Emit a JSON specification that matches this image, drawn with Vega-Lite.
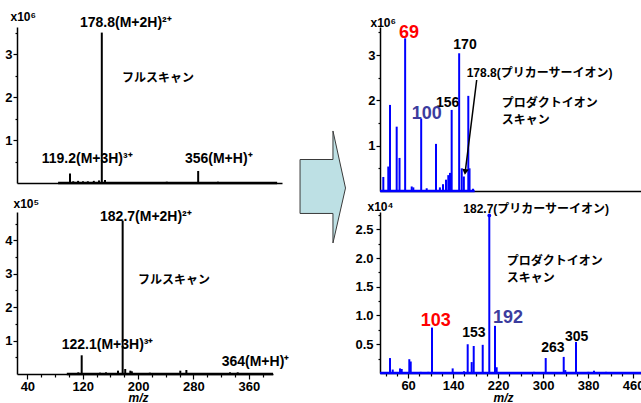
{
"$schema": "https://vega.github.io/schema/vega-lite/v6.json",
"padding": {"left": 4, "top": 10, "right": 0, "bottom": 0},
"background": "white",
"bounds": "flush",
"columns": 3,
"spacing": {"row": 21, "column": 0},
"config": {
  "font": "'Liberation Sans', 'Noto Sans CJK JP'",
  "view": {"stroke": null},
  "axis": {"domainColor": "#000000", "domainWidth": 1.5, "tickColor": "#000000", "tickWidth": 1.2, "labelColor": "#000000", "labelFont": "'Liberation Sans', 'DejaVu Sans'", "labelFontSize": 13, "labelFontWeight": "bold", "labelOverlap": false, "labelFlush": false, "grid": false, "titleColor": "#000000", "titleFont": "'Liberation Sans', 'DejaVu Sans'", "titleFontWeight": "bold"},
  "axisY": {"titleAngle": 0, "titleAlign": "left", "titleBaseline": "alphabetic", "titleFontSize": 12, "labelPadding": 1},
  "axisX": {"labelPadding": 1},
  "text": {"font": "'Liberation Sans', 'Noto Sans CJK JP'", "fontWeight": "bold"}
},
"datasets": {
  "tl_peaks": [{"mz":120,"i":0.22},{"mz":126,"i":0.04},{"mz":135,"i":0.05},{"mz":144,"i":0.04},{"mz":153,"i":0.04},{"mz":164,"i":0.05},{"mz":173.6,"i":0.06},{"mz":178.8,"i":3.5},{"mz":184.7,"i":0.07},{"mz":299,"i":0.03},{"mz":357,"i":0.28},{"mz":393.5,"i":0.03}],
  "tl_base": [{"mz":98,"end":503,"i":0}],
  "tl_ions": [{"mz":138.5,"i":3.63,"text":"178.8(M+2H)²⁺"},{"mz":67.7,"i":0.47,"text":"119.2(M+3H)³⁺"},{"mz":332.5,"i":0.47,"text":"356(M+H)⁺"}],
  "tl_notes": [{"mz":216,"i":2.35,"text":"フルスキャン"}],
  "bl_peaks": [{"mz":113.6,"i":0.05},{"mz":118.5,"i":0.56},{"mz":125.6,"i":0.03},{"mz":134.8,"i":0.03},{"mz":145,"i":0.04},{"mz":153.6,"i":0.05},{"mz":171,"i":0.1},{"mz":177.7,"i":4.59},{"mz":181.4,"i":0.15},{"mz":188.8,"i":0.1},{"mz":191,"i":0.08},{"mz":217,"i":0.04},{"mz":261,"i":0.1},{"mz":269.8,"i":0.12},{"mz":332.8,"i":0.05},{"mz":344,"i":0.05}],
  "bl_base": [{"mz":97,"end":395,"i":0}],
  "bl_ions": [{"mz":145,"i":4.58,"text":"182.7(M+2H)²⁺"},{"mz":89.6,"i":0.76,"text":"122.1(M+3H)³⁺"},{"mz":320.8,"i":0.24,"text":"364(M+H)⁺"}],
  "bl_notes": [{"mz":199.9,"i":2.69,"text":"フルスキャン"}],
  "tr_peaks": [{"mz":28.2,"i":0.31},{"mz":37.5,"i":0.54},{"mz":40.7,"i":1.9},{"mz":53.2,"i":1.42},{"mz":58.5,"i":0.73},{"mz":69,"i":3.37},{"mz":81.3,"i":0.1},{"mz":84.3,"i":0.08},{"mz":99,"i":1.6},{"mz":109.3,"i":0.06},{"mz":126.7,"i":1.04},{"mz":134,"i":0.08},{"mz":139.8,"i":0.15},{"mz":145.4,"i":0.25},{"mz":149.7,"i":0.35},{"mz":152.9,"i":0.4},{"mz":156,"i":1.79},{"mz":170,"i":3.04},{"mz":174.8,"i":0.5},{"mz":178.8,"i":0.32},{"mz":187.1,"i":2.1},{"mz":189.4,"i":0.5},{"mz":195.9,"i":0.05}],
  "tr_base": [{"mz":22,"end":199,"i":0}],
  "tr_notes": [{"mz":184.1,"i":2.52,"text":"178.8(プリカーサーイオン)"},{"mz":249.6,"i":1.85,"text":"プロダクトイオン"},{"mz":249.6,"i":1.48,"text":"スキャン"}],
  "tr_ions": [{"mz":180.9,"i":3.13,"text":"170"},{"mz":148.6,"i":1.85,"text":"156"}],
  "tr_marks": [{"mz":76.2,"i":3.38,"text":"69","series":"A"},{"mz":109.5,"i":1.59,"text":"100","series":"B"}],
  "tr_arrow": [{"mz":202.8,"i":2.45,"mz2":181.3,"i2":0.42}],
  "tr_head": [{"mz":181.3,"i":0.42}],
  "br_peaks": [{"mz":27.8,"i":0.26},{"mz":32.6,"i":0.06},{"mz":45.6,"i":0.08},{"mz":48.6,"i":0.07},{"mz":62.1,"i":0.24},{"mz":64.6,"i":0.2},{"mz":82.4,"i":0.02},{"mz":95.9,"i":0.02},{"mz":102.4,"i":0.79},{"mz":139.2,"i":0.08},{"mz":159.3,"i":0.03},{"mz":165.9,"i":0.5},{"mz":173,"i":0.19},{"mz":176.6,"i":0.47},{"mz":192.6,"i":0.49},{"mz":204.3,"i":2.74},{"mz":214.4,"i":0.82},{"mz":217.4,"i":0.1},{"mz":283.8,"i":0.02},{"mz":304.6,"i":0.26},{"mz":336.6,"i":0.28},{"mz":339.4,"i":0.05},{"mz":358.4,"i":0.54},{"mz":380.3,"i":0.02},{"mz":390.4,"i":0.04},{"mz":411.8,"i":0.02}],
  "br_base": [{"mz":10,"end":474,"i":0}],
  "br_notes": [{"mz":158.1,"i":2.78,"text":"182.7(プリカーサーイオン)"},{"mz":235.2,"i":1.88,"text":"プロダクトイオン"},{"mz":235.2,"i":1.58,"text":"スキャン"}],
  "br_ions": [{"mz":176.8,"i":0.63,"text":"153"},{"mz":317.2,"i":0.37,"text":"263"},{"mz":359.7,"i":0.56,"text":"305"}],
  "br_marks": [{"mz":109.2,"i":0.82,"text":"103","series":"A"},{"mz":237.6,"i":0.87,"text":"192","series":"B"}],
  "br_precursor": [{"mz":204.3,"i":2.74}],
  "arrow": [{"ax":18.4,"top":80.8,"bottom":113.7},{"ax":52.0,"top":80.8,"bottom":113.7},{"ax":52.01,"top":63.4,"bottom":131.7},{"ax":64.8,"top":98.2,"bottom":98.2}],
  "empty": []
},
"concat": [
    {"width": 265, "height": 156,
     "encoding": {
      "x": {"field": "mz", "type": "quantitative", "scale": {"domain": [22, 512]}, "axis": {"labels": false, "ticks": false, "title": null}},
      "y": {"field": "i", "type": "quantitative", "scale": {"domain": [0, 3.63]}, "axis": {"title": "x10⁶", "titleX": -7, "titleY": -7, "values": [0.5, 1, 1.5, 2, 2.5, 3, 3.5], "labelExpr": "datum.value % 1 === 0 ? format(datum.value, '.0f') : ''", "tickSize": {"condition": {"test": "datum.value % 1 === 0", "value": 4}, "value": 2}}}
     },
     "layer": [
      {"data": {"name": "tl_peaks"}, "mark": {"type": "rule", "color": "#000000", "strokeWidth": 2}, "encoding": {"y2": {"datum": 0}}},
      {"data": {"name": "tl_base"}, "mark": {"type": "rule", "color": "#000000", "strokeWidth": 2.5}, "encoding": {"x2": {"field": "end"}}},
      {"data": {"name": "tl_ions"}, "mark": {"type": "text", "align": "left", "baseline": "alphabetic", "fontSize": 14, "color": "#000000"}, "encoding": {"text": {"field": "text"}}},
      {"data": {"name": "tl_notes"}, "mark": {"type": "text", "align": "left", "baseline": "alphabetic", "fontSize": 12, "color": "#000000"}, "encoding": {"text": {"field": "text"}}}
     ]},
    {"width": 98, "height": 164,
     "data": {"name": "arrow"},
     "mark": {"type": "area", "fill": "#bde0e4", "stroke": "#3a3a3a", "strokeWidth": 1, "orient": "vertical", "fillOpacity": 1},
     "encoding": {
      "x": {"field": "ax", "type": "quantitative", "scale": {"domain": [0, 100]}, "axis": null},
      "y": {"field": "top", "type": "quantitative", "scale": {"domain": [0, 100], "reverse": true}, "axis": null},
      "y2": {"field": "bottom"}}},
    {"width": 261, "height": 164,
     "encoding": {
      "x": {"field": "mz", "type": "quantitative", "scale": {"domain": [22, 510]}, "axis": {"labels": false, "ticks": false, "title": null}},
      "y": {"field": "i", "type": "quantitative", "scale": {"domain": [0, 3.62]}, "axis": {"title": "x10⁶", "titleX": -10, "titleY": -1, "values": [0.5, 1, 1.5, 2, 2.5, 3, 3.5], "labelExpr": "datum.value % 1 === 0 ? format(datum.value, '.0f') : ''", "tickSize": {"condition": {"test": "datum.value % 1 === 0", "value": 4}, "value": 2}}}
     },
     "layer": [
      {"data": {"name": "tr_peaks"}, "mark": {"type": "rule", "color": "#0000ff", "strokeWidth": 2}, "encoding": {"y2": {"datum": 0}}},
      {"data": {"name": "tr_base"}, "mark": {"type": "rule", "color": "#0000ff", "strokeWidth": 2.5}, "encoding": {"x2": {"field": "end"}}},
      {"data": {"name": "tr_arrow"}, "mark": {"type": "rule", "color": "#000000", "strokeWidth": 1.5}, "encoding": {"x2": {"field": "mz2"}, "y2": {"field": "i2"}}},
      {"data": {"name": "tr_head"}, "mark": {"type": "point", "shape": "triangle-down", "filled": true, "color": "#000000", "size": 45, "angle": 7, "opacity": 1}},
      {"data": {"name": "tr_notes"}, "mark": {"type": "text", "align": "left", "baseline": "alphabetic", "fontSize": 12, "color": "#000000"}, "encoding": {"text": {"field": "text"}}},
      {"data": {"name": "tr_ions"}, "mark": {"type": "text", "align": "center", "baseline": "alphabetic", "fontSize": 14, "color": "#000000"}, "encoding": {"text": {"field": "text"}}},
      {"data": {"name": "tr_marks"}, "mark": {"type": "text", "align": "center", "baseline": "alphabetic", "fontSize": 18},
       "encoding": {
        "color": {"field": "series", "type": "nominal", "scale": {"domain": ["A", "B"], "range": ["#ff0000", "#3c3c9e"]}, "legend": null},
        "text": {"field": "text"}}}
     ]},
    {"width": 256, "height": 162,
     "encoding": {
      "x": {"field": "mz", "type": "quantitative", "scale": {"domain": [25, 395]}, "axis": {"values": [40,60,80,100,120,140,160,180,200,220,240,260,280,300,320,340,360,380], "format": "d", "labelExpr": "(datum.value - 40) % 80 === 0 ? datum.label : ''", "tickSize": {"condition": {"test": "(datum.value - 40) % 80 === 0", "value": 5}, "value": 3}, "title": "m/z", "titleFontStyle": "italic", "titleFontSize": 12, "titleX": 121, "titleY": 27, "titleBaseline": "alphabetic", "titleAlign": "center"}},
      "y": {"field": "i", "type": "quantitative", "scale": {"domain": [0, 4.85]}, "axis": {"title": "x10⁵", "titleX": -4, "titleY": -5, "values": [0.5, 1, 1.5, 2, 2.5, 3, 3.5, 4, 4.5], "labelExpr": "datum.value % 1 === 0 ? format(datum.value, '.0f') : ''", "tickSize": {"condition": {"test": "datum.value % 1 === 0", "value": 4}, "value": 2}}}
     },
     "layer": [
      {"data": {"name": "bl_peaks"}, "mark": {"type": "rule", "color": "#000000", "strokeWidth": 2}, "encoding": {"y2": {"datum": 0}}},
      {"data": {"name": "bl_base"}, "mark": {"type": "rule", "color": "#000000", "strokeWidth": 2.5}, "encoding": {"x2": {"field": "end"}}},
      {"data": {"name": "bl_ions"}, "mark": {"type": "text", "align": "left", "baseline": "alphabetic", "fontSize": 14, "color": "#000000"}, "encoding": {"text": {"field": "text"}}},
      {"data": {"name": "bl_notes"}, "mark": {"type": "text", "align": "left", "baseline": "alphabetic", "fontSize": 12, "color": "#000000"}, "encoding": {"text": {"field": "text"}}}
     ]},
    {"width": 98, "height": 10,
     "data": {"name": "empty"},
     "mark": {"type": "text"},
     "encoding": {}},
    {"width": 261, "height": 161,
     "encoding": {
      "x": {"field": "mz", "type": "quantitative", "scale": {"domain": [10, 474]}, "axis": {"values": [20,40,60,80,100,120,140,160,180,200,220,240,260,280,300,320,340,360,380,400,420,440,460], "format": "d", "labelExpr": "(datum.value - 60) % 80 === 0 ? datum.label : ''", "tickSize": {"condition": {"test": "(datum.value - 60) % 80 === 0", "value": 5}, "value": 3}, "title": "m/z", "titleFontStyle": "italic", "titleFontSize": 12, "titleX": 123, "titleY": 28, "titleBaseline": "alphabetic", "titleAlign": "center"}},
      "y": {"field": "i", "type": "quantitative", "scale": {"domain": [0, 2.8]}, "axis": {"title": "x10⁴", "titleX": -13, "titleY": -2, "values": [0.25, 0.5, 0.75, 1, 1.25, 1.5, 1.75, 2, 2.25, 2.5, 2.75], "format": ".1f", "labelExpr": "(datum.value * 2) % 1 === 0 ? datum.label : ''", "tickSize": {"condition": {"test": "(datum.value * 2) % 1 === 0", "value": 4}, "value": 2}, "labelPadding": 3}}
     },
     "layer": [
      {"data": {"name": "br_peaks"}, "mark": {"type": "rule", "color": "#0000ff", "strokeWidth": 2}, "encoding": {"y2": {"datum": 0}}},
      {"data": {"name": "br_base"}, "mark": {"type": "rule", "color": "#0000ff", "strokeWidth": 2.5}, "encoding": {"x2": {"field": "end"}}},
      {"data": {"name": "br_precursor"}, "mark": {"type": "point", "shape": "circle", "filled": true, "color": "#0000ff", "size": 14, "opacity": 1}},
      {"data": {"name": "br_notes"}, "mark": {"type": "text", "align": "left", "baseline": "alphabetic", "fontSize": 12, "color": "#000000"}, "encoding": {"text": {"field": "text"}}},
      {"data": {"name": "br_ions"}, "mark": {"type": "text", "align": "center", "baseline": "alphabetic", "fontSize": 14, "color": "#000000"}, "encoding": {"text": {"field": "text"}}},
      {"data": {"name": "br_marks"}, "mark": {"type": "text", "align": "center", "baseline": "alphabetic", "fontSize": 18},
       "encoding": {
        "color": {"field": "series", "type": "nominal", "scale": {"domain": ["A", "B"], "range": ["#ff0000", "#3c3c9e"]}, "legend": null},
        "text": {"field": "text"}}}
     ]}
]
}
